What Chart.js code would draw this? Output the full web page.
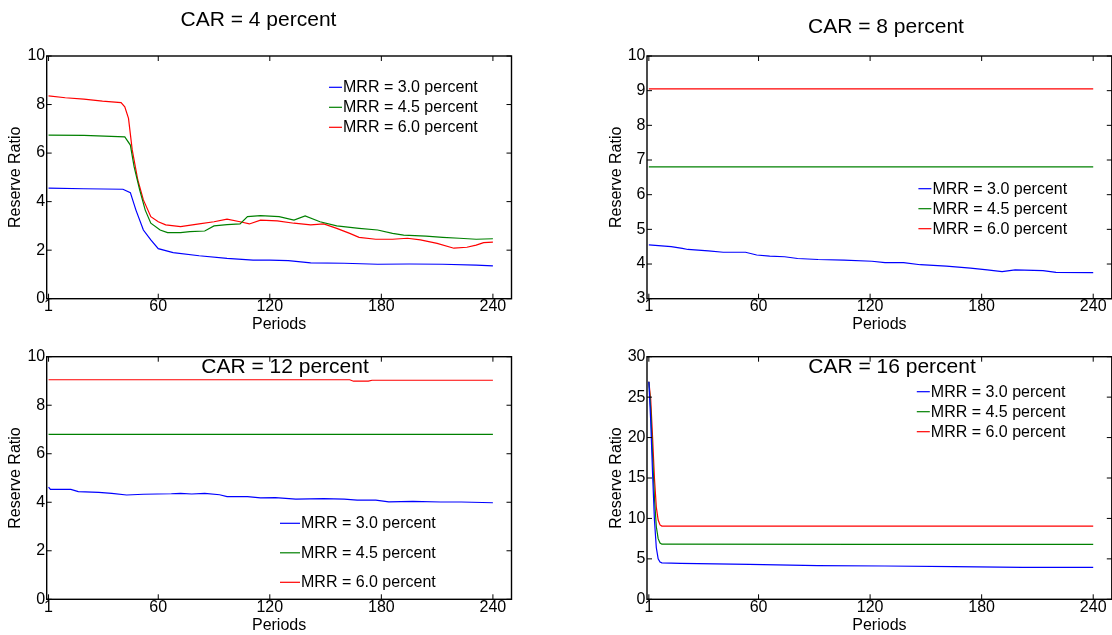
<!DOCTYPE html>
<html>
<head>
  <title>Reserve Ratio by CAR</title>
  <script src="https://cdn.jsdelivr.net/npm/chart.js"></script>
  <style>
    body { margin: 0; background: #fff; }
    #wrap { position: relative; width: 1112px; height: 635px; overflow: hidden; }
    canvas { position: absolute; }
  </style>
</head>
<body>
<div id="wrap">
  <canvas id="car4" width="556" height="335" style="left:0;top:0"></canvas>
  <canvas id="car8" width="556" height="335" style="left:556px;top:0"></canvas>
  <canvas id="car12" width="556" height="300" style="left:0;top:335px"></canvas>
  <canvas id="car16" width="556" height="300" style="left:556px;top:335px"></canvas>
</div>

<script>
  const periodTicks = [1, 60, 120, 180, 240];
  const seriesLabels = ['MRR = 3.0 percent', 'MRR = 4.5 percent', 'MRR = 6.0 percent'];
  const seriesColors = ['#0000ff', '#008000', '#ff0000'];

  // CAR = 4 percent
  const car4LowX = [1, 20, 41, 45, 48, 52, 56, 60, 68, 82, 97, 111, 120, 130, 142, 160, 178, 195, 213, 231, 240];
  const car4LowY = [4.56, 4.53, 4.51, 4.37, 3.65, 2.83, 2.42, 2.06, 1.90, 1.77, 1.66, 1.59, 1.59, 1.57, 1.48, 1.46, 1.42, 1.43, 1.42, 1.38, 1.35];
  const car4MidX = [1, 20, 42, 45, 47, 50, 53, 56, 61, 65, 72, 77, 85, 90, 97, 104, 108, 115, 125, 133, 139, 147, 156, 168, 178, 186, 192, 204, 213, 222, 231, 240];
  const car4MidY = [6.74, 6.73, 6.67, 6.33, 5.44, 4.48, 3.65, 3.11, 2.83, 2.72, 2.72, 2.76, 2.79, 3.00, 3.05, 3.08, 3.38, 3.42, 3.38, 3.24, 3.41, 3.17, 3.00, 2.90, 2.83, 2.69, 2.62, 2.58, 2.53, 2.49, 2.45, 2.47];
  const car4HighX = [1, 10, 20, 30, 40, 42, 44, 46, 49, 52, 56, 60, 64, 72, 82, 90, 97, 104, 109, 115, 124, 133, 142, 149, 156, 163, 168, 177, 186, 194, 201, 210, 219, 226, 231, 235, 240];
  const car4HighY = [8.36, 8.28, 8.22, 8.14, 8.08, 7.91, 7.43, 6.13, 4.89, 4.07, 3.38, 3.17, 3.04, 2.97, 3.08, 3.17, 3.28, 3.17, 3.08, 3.24, 3.21, 3.11, 3.04, 3.08, 2.90, 2.69, 2.53, 2.45, 2.45, 2.49, 2.42, 2.28, 2.08, 2.12, 2.21, 2.31, 2.33];

  // CAR = 8 percent
  const car8LowX = [1, 13, 19, 22, 33, 41, 53, 59, 66, 74, 81, 92, 106, 121, 128, 138, 147, 161, 174, 183, 191, 198, 213, 220, 240];
  const car8LowY = [4.55, 4.50, 4.45, 4.42, 4.38, 4.34, 4.34, 4.26, 4.23, 4.21, 4.16, 4.13, 4.11, 4.08, 4.04, 4.04, 3.98, 3.94, 3.88, 3.83, 3.78, 3.83, 3.81, 3.76, 3.75];
  const car8MidX = [1, 120, 240];
  const car8MidY = [6.80, 6.80, 6.80];
  const car8HighX = [1, 120, 240];
  const car8HighY = [9.05, 9.05, 9.05];

  // CAR = 12 percent
  const car12LowX = [1, 2, 13, 17, 28, 35, 43, 52, 67, 72, 78, 85, 93, 97, 108, 115, 123, 134, 149, 160, 167, 177, 184, 197, 212, 223, 240];
  const car12LowY = [4.62, 4.53, 4.53, 4.44, 4.41, 4.37, 4.30, 4.33, 4.35, 4.37, 4.34, 4.37, 4.31, 4.23, 4.23, 4.18, 4.19, 4.13, 4.15, 4.13, 4.09, 4.09, 4.02, 4.04, 4.01, 4.01, 3.98];
  const car12MidX = [1, 120, 240];
  const car12MidY = [6.80, 6.80, 6.80];
  const car12HighX = [1, 163, 165, 173, 175, 240];
  const car12HighY = [9.05, 9.05, 8.99, 8.99, 9.03, 9.03];

  // CAR = 16 percent
  const car16LowX = [1, 2, 3, 4, 5, 6, 7, 8, 18, 55, 92, 128, 165, 202, 240];
  const car16LowY = [26.9, 22.0, 15.5, 9.8, 6.4, 5.0, 4.6, 4.5, 4.45, 4.33, 4.16, 4.12, 4.03, 3.95, 3.95];
  const car16MidX = [1, 2, 3, 4, 5, 6, 7, 8, 120, 240];
  const car16MidY = [26.9, 23.5, 17.8, 12.5, 9.0, 7.5, 6.95, 6.82, 6.80, 6.80];
  const car16HighX = [1, 2, 3, 4, 5, 6, 7, 8, 120, 240];
  const car16HighY = [26.9, 24.7, 20.0, 15.0, 11.4, 9.8, 9.2, 9.05, 9.05, 9.05];

  Chart.defaults.font.family = '"Liberation Sans", Arial, sans-serif';
  Chart.defaults.color = '#000';

  const pts = (xs, ys) => xs.map((x, i) => ({ x: x, y: ys[i] }));

  // box round the plot with inward tick marks on all four sides
  const frame = {
    id: 'frame',
    afterDatasetsDraw(chart) {
      const { ctx, chartArea: a, scales: { x, y } } = chart;
      const t = 5;
      ctx.save();
      ctx.strokeStyle = '#000';
      ctx.lineWidth = 1;
      ctx.beginPath();
      x.ticks.forEach(tk => {
        const px = x.getPixelForValue(tk.value);
        ctx.moveTo(px, a.bottom); ctx.lineTo(px, a.bottom - t);
        ctx.moveTo(px, a.top); ctx.lineTo(px, a.top + t);
      });
      y.ticks.forEach(tk => {
        const py = y.getPixelForValue(tk.value);
        ctx.moveTo(a.left, py); ctx.lineTo(a.left + t, py);
        ctx.moveTo(a.right, py); ctx.lineTo(a.right - t, py);
      });
      ctx.stroke();
      ctx.lineWidth = 1.4;
      ctx.strokeRect(a.left, a.top, a.right - a.left, a.bottom - a.top);
      ctx.restore();
    }
  };

  // panel title and MATLAB-like legend
  const notes = {
    id: 'notes',
    afterDraw(chart, args, opts) {
      const ctx = chart.ctx;
      ctx.save();
      ctx.fillStyle = '#000';
      ctx.font = '21px "Liberation Sans", Arial, sans-serif';
      ctx.textAlign = 'center';
      ctx.textBaseline = 'alphabetic';
      ctx.fillText(opts.title, opts.titleX, opts.titleY);

      ctx.font = '16px "Liberation Sans", Arial, sans-serif';
      ctx.textAlign = 'left';
      ctx.textBaseline = 'middle';
      chart.data.datasets.forEach((ds, i) => {
        const ly = opts.legendY + i * opts.legendGap;
        ctx.strokeStyle = ds.borderColor;
        ctx.lineWidth = 1.2;
        ctx.beginPath();
        ctx.moveTo(opts.legendX, ly);
        ctx.lineTo(opts.legendX + opts.legendLen, ly);
        ctx.stroke();
        ctx.fillText(ds.label, opts.legendX + opts.legendLen + 1, ly + 0.5);
      });
      ctx.restore();
    }
  };

  function makePanel(id, series, yMin, yMax, yStep, box, note) {
    const canvas = document.getElementById(id);
    const yAxisW = 46.7, xAxisH = 36;
    return new Chart(canvas, {
      type: 'line',
      data: {
        datasets: series.map((s, i) => ({
          label: seriesLabels[i],
          data: pts(s[0], s[1]),
          borderColor: seriesColors[i],
          borderWidth: 1.2,
          pointRadius: 0,
          fill: false,
          tension: 0
        }))
      },
      options: {
        responsive: false,
        animation: false,
        events: [],
        layout: {
          padding: {
            left: box.left - yAxisW,
            top: box.top,
            right: canvas.width - box.right,
            bottom: canvas.height - box.bottom - xAxisH
          }
        },
        plugins: {
          legend: { display: false },
          tooltip: { enabled: false },
          notes: note
        },
        scales: {
          x: {
            type: 'linear',
            min: 0,
            max: 250,
            afterBuildTicks: s => { s.ticks = periodTicks.map(v => ({ value: v })); },
            afterFit: s => { s.height = xAxisH; },
            grid: { display: false, drawTicks: false },
            border: { display: false },
            ticks: { font: { size: 16, lineHeight: 1 }, padding: 0, maxRotation: 0, autoSkip: false },
            title: { display: true, text: 'Periods', font: { size: 16 }, padding: { top: 0, bottom: 0.5 } }
          },
          y: {
            min: yMin,
            max: yMax,
            afterFit: s => { s.width = yAxisW; },
            grid: { display: false, drawTicks: false },
            border: { display: false },
            ticks: { stepSize: yStep, font: { size: 16 }, padding: 1.5 },
            title: { display: true, text: 'Reserve Ratio', font: { size: 16 }, padding: { top: 6.4, bottom: 0 } }
          }
        }
      },
      plugins: [frame, notes]
    });
  }

  makePanel('car4',
    [[car4LowX, car4LowY], [car4MidX, car4MidY], [car4HighX, car4HighY]],
    0, 10, 2,
    { left: 46.7, top: 56, right: 511.5, bottom: 298.7 },
    { title: 'CAR = 4 percent', titleX: 258.5, titleY: 26, legendX: 329, legendLen: 13, legendY: 87.3, legendGap: 20 });

  makePanel('car8',
    [[car8LowX, car8LowY], [car8MidX, car8MidY], [car8HighX, car8HighY]],
    3, 10, 1,
    { left: 91, top: 56, right: 555.8, bottom: 298.7 },
    { title: 'CAR = 8 percent', titleX: 330, titleY: 33, legendX: 362.4, legendLen: 13, legendY: 188.7, legendGap: 20 });

  makePanel('car12',
    [[car12LowX, car12LowY], [car12MidX, car12MidY], [car12HighX, car12HighY]],
    0, 10, 2,
    { left: 46.7, top: 21.7, right: 511.5, bottom: 264.3 },
    { title: 'CAR = 12 percent', titleX: 285, titleY: 38.3, legendX: 280, legendLen: 20, legendY: 188.3, legendGap: 29.5 });

  makePanel('car16',
    [[car16LowX, car16LowY], [car16MidX, car16MidY], [car16HighX, car16HighY]],
    0, 30, 5,
    { left: 91, top: 21.7, right: 555.8, bottom: 264.3 },
    { title: 'CAR = 16 percent', titleX: 336, titleY: 38.3, legendX: 360.8, legendLen: 13, legendY: 56.7, legendGap: 20 });
</script>
</body>
</html>
